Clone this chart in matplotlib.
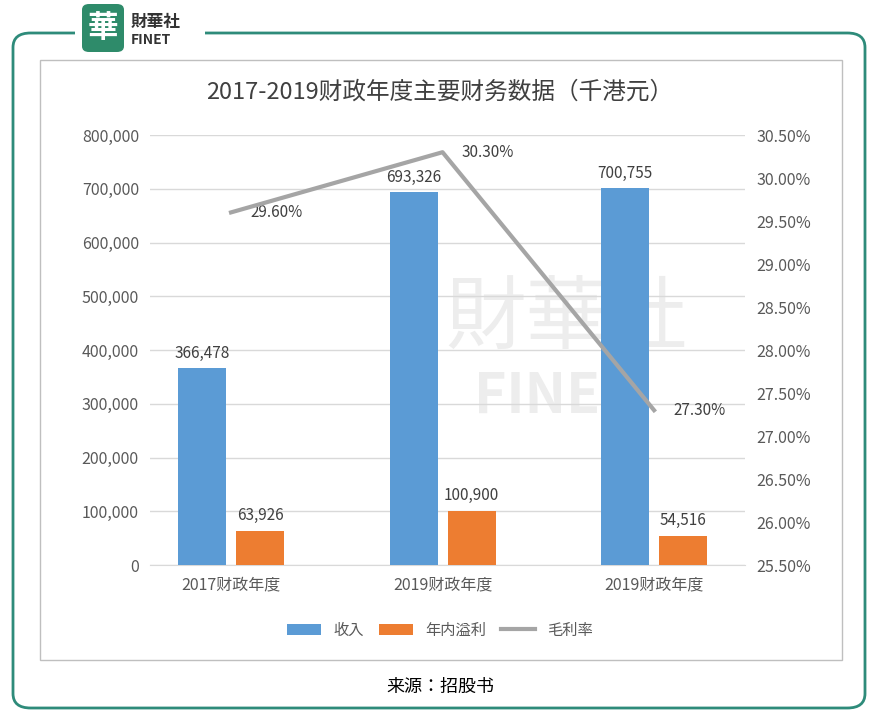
import matplotlib
matplotlib.use("Agg")
import matplotlib.pyplot as plt
from matplotlib.patches import FancyBboxPatch, Rectangle
from matplotlib.ticker import FuncFormatter

plt.rcParams['font.family'] = ['sans-serif']
plt.rcParams['font.sans-serif'] = ['Noto Sans CJK SC', 'Noto Sans CJK JP', 'Noto Sans CJK TC', 'Noto Sans CJK KR', 'DejaVu Sans']

categories = ["2017财政年度", "2019财政年度", "2019财政年度"]
revenue = [366478, 693326, 700755]
profit = [63926, 100900, 54516]
margin = [29.60, 30.30, 27.30]

fig = plt.figure(figsize=(8.8, 7.2), dpi=100)
fig.patches.append(FancyBboxPatch((13/880, 1-708/720), 852/880, 675/720,
    boxstyle="round,pad=0,rounding_size=0.02", transform=fig.transFigure,
    fill=False, edgecolor="#2e8b7a", linewidth=2))
fig.patches.append(Rectangle((40/880, 1-660/720), 802/880, 600/720,
    transform=fig.transFigure, fill=False, edgecolor="#bfbfbf", linewidth=1))
fig.patches.append(Rectangle((75/880, 1-55/720), 130/880, 55/720,
    transform=fig.transFigure, facecolor="white", edgecolor="none", zorder=5))
fig.patches.append(FancyBboxPatch((82/880, 1-52/720), 42/880, 48/720,
    boxstyle="round,pad=0,rounding_size=0.008", transform=fig.transFigure,
    facecolor="#2e8b6a", edgecolor="none", zorder=6))
fig.text(103/880, 1-28/720, "華", color="white", fontsize=22, ha="center", va="center", zorder=7, fontweight="bold")
fig.text(131/880, 1-22/720, "財華社", color="#333333", fontsize=12, ha="left", va="center", zorder=7, fontweight="bold")
fig.text(131/880, 1-40/720, "FINET", color="#333333", fontsize=10, ha="left", va="center", zorder=7, fontweight="bold")

ax = fig.add_axes([150/880, 1-565/720, 595/880, 430/720])
ax.patch.set_alpha(0)
ax.text(0.7, 0.57, "財華社", color="#ededed", fontsize=58, ha="center", va="center", zorder=1, transform=ax.transAxes)
ax.text(0.68, 0.39, "FINET", color="#ededed", fontsize=40, ha="center", va="center", zorder=1, transform=ax.transAxes, fontweight="bold")
x = list(range(len(categories)))
w = 0.227
off = 0.137
ax.bar([i - off for i in x], revenue, w, color="#5b9bd5", zorder=3, label="收入")
ax.bar([i + off for i in x], profit, w, color="#ed7d31", zorder=3, label="年内溢利")
for i in x:
    ax.text(i - off, revenue[i] + 12000, f"{revenue[i]:,}", ha="center", va="bottom", fontsize=11, color="#404040", zorder=5)
    ax.text(i + off, profit[i] + 12000, f"{profit[i]:,}", ha="center", va="bottom", fontsize=11, color="#404040", zorder=5)
ax.set_ylim(0, 800000)
ax.set_yticks(range(0, 800001, 100000))
ax.yaxis.set_major_formatter(FuncFormatter(lambda v, p: f"{int(v):,}"))
ax.set_xlim(-0.383, 2.43)
ax.set_xticks(x)
ax.set_xticklabels(categories)
ax.grid(axis="y", color="#d9d9d9", linewidth=1, zorder=0)
for s in ax.spines.values():
    s.set_visible(False)
ax.spines["bottom"].set_visible(True)
ax.spines["bottom"].set_color("#d9d9d9")
ax.tick_params(length=0, labelsize=11.5, labelcolor="#595959", pad=8)

ax2 = ax.twinx()
ax2.plot(x, margin, color="#a5a5a5", linewidth=3, zorder=4, label="毛利率")
ax2.set_ylim(25.5, 30.5)
ax2.set_yticks([25.5 + 0.5 * k for k in range(11)])
ax2.yaxis.set_major_formatter(FuncFormatter(lambda v, p: f"{v:.2f}%"))
for s in ax2.spines.values():
    s.set_visible(False)
ax2.tick_params(length=0, labelsize=11.5, labelcolor="#595959", pad=8)
for i in x:
    ax2.text(i + 0.09, margin[i], f"{margin[i]:.2f}%", ha="left", va="center", fontsize=11, color="#404040")

h1, l1 = ax.get_legend_handles_labels()
h2, l2 = ax2.get_legend_handles_labels()
fig.legend(h1 + h2, l1 + l2, loc="center", bbox_to_anchor=(440/880, 1-630/720), ncol=3,
           frameon=False, fontsize=11, handlelength=2.2, columnspacing=1.0, labelcolor="#595959")

fig.text(440/880, 1-92/720, "2017-2019财政年度主要财务数据（千港元）", ha="center", va="center", fontsize=17, color="#404040")
fig.text(440/880, 1-687/720, "来源：招股书", ha="center", va="center", fontsize=13, color="#000000")

fig.savefig("out.png", dpi=100)
